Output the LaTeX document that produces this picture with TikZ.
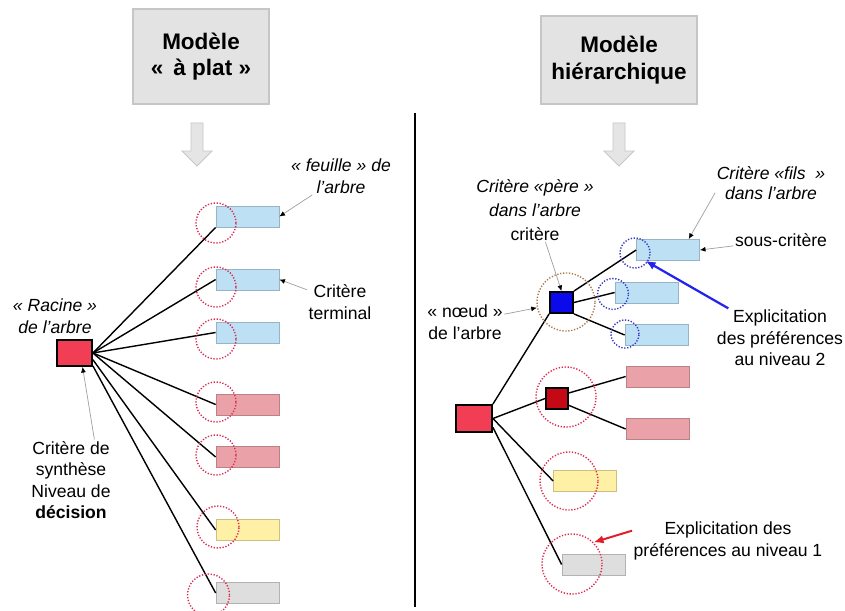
\documentclass[tikz,border=0pt]{standalone}
\usepackage{fontspec}
\setmainfont{Liberation Sans}
\usepackage{xcolor}
\usetikzlibrary{arrows.meta, positioning, calc}

\definecolor{rootred}{RGB}{242,62,84}
\definecolor{darkred}{RGB}{196,8,22}
\definecolor{nodeblue}{RGB}{10,10,235}
\definecolor{leafblue}{RGB}{189,224,245}
\definecolor{leafpink}{RGB}{234,162,168}
\definecolor{leafyellow}{RGB}{254,240,165}
\definecolor{leafgray}{RGB}{222,222,222}
\definecolor{ringred}{RGB}{222,40,80}
\definecolor{ringbrown}{RGB}{170,120,80}
\definecolor{ringblue}{RGB}{50,50,190}
\definecolor{arrowred}{RGB}{228,28,40}

\begin{document}
\begin{tikzpicture}[
    x=0.025cm, y=-0.025cm,
    titlebox/.style={rectangle, draw=gray!45, fill=gray!22, line width=0.8pt, align=center, font=\fontsize{16}{19}\selectfont\bfseries},
    txt/.style={align=center, inner sep=1pt, font=\fontsize{12.5}{15.3}\selectfont},
    itxt/.style={align=center, inner sep=1pt, font=\fontsize{12.5}{15.3}\selectfont\itshape},
    leaf/.style={rectangle, draw=#1!80!black, fill=#1, minimum width=1.575cm, minimum height=0.53cm, inner sep=0pt, line width=0.5pt},
    critbox/.style={rectangle, draw, fill=#1, line width=1.3pt, inner sep=0pt},
    ring/.style={circle, draw=#1, dash pattern=on 0.9pt off 1.2pt, line width=1pt, inner sep=0pt},
    branch/.style={draw, line width=1pt},
    pointer/.style={draw=gray!75, line width=0.5pt, -{Latex[length=4pt, width=3.5pt, color=black]}},
    bluearrow/.style={draw=nodeblue!90, line width=1.6pt, -{Latex[length=7pt, width=6pt]}},
    redarrow/.style={draw=arrowred, line width=1.4pt, -{Latex[length=7pt, width=6pt]}},
    downarrow/.style={draw=gray!45, fill=gray!20, line width=0.6pt}
]
    \useasboundingbox (0,0) rectangle (845,610);

    % Titles
    \node [titlebox, minimum width=3.4cm, minimum height=2.375cm] (titleflat) at (201,56.5) {Modèle\\«\,~à plat~»};
    \node [titlebox, minimum width=3.9cm, minimum height=2.2cm] (titlehier) at (619,60) {Modèle\\hiérarchique};
    \path [downarrow] (191,123) -- (203,123) -- (203,151) -- (212,151) -- (197,166) -- (182,151) -- (191,151) -- cycle;
    \path [downarrow] (613,123) -- (625,123) -- (625,151) -- (634,151) -- (619,166) -- (604,151) -- (613,151) -- cycle;

    % Separator
    \coordinate (sepTop) at (415,113);
    \coordinate (sepBot) at (415,607);
    \draw [line width=1.4pt] (sepTop) -- (sepBot);

    % Flat model: nodes
    \node [critbox=rootred, minimum width=0.875cm, minimum height=0.65cm] (root) at (74.5,353) {};
    \node [leaf=leafblue] (leafA1) at (247.5,216.5) {};
    \node [leaf=leafblue] (leafA2) at (247.5,279.5) {};
    \node [leaf=leafblue] (leafA3) at (247.5,332.5) {};
    \node [leaf=leafpink] (leafA4) at (247.5,404.5) {};
    \node [leaf=leafpink] (leafA5) at (247.5,457) {};
    \node [leaf=leafyellow] (leafA6) at (247.5,530) {};
    \node [leaf=leafgray] (leafA7) at (247.5,593) {};

    % Flat model: paths
    \path [branch] (root.east) -- (leafA1.south west);
    \path [branch] (root.east) -- (leafA2.west);
    \path [branch] (root.east) -- (leafA3.west);
    \path [branch] (root.east) -- (leafA4.west);
    \path [branch] (root.east) -- (leafA5.west);
    \path [branch] (root.-20) -- (leafA6.west);
    \path [branch] (root.-35) -- (leafA7.west);

    \node [ring=ringred, minimum size=1cm] (ringA1) at (216,223) {};
    \node [ring=ringred, minimum size=1cm] (ringA2) at (216,287) {};
    \node [ring=ringred, minimum size=1cm] (ringA3) at (216,339) {};
    \node [ring=ringred, minimum size=1cm] (ringA4) at (216,402) {};
    \node [ring=ringred, minimum size=1cm] (ringA5) at (216,455) {};
    \node [ring=ringred, minimum size=1.05cm] (ringA6) at (218,527) {};
    \node [ring=ringred, minimum size=1.05cm] (ringA7) at (208.5,595) {};

    % Flat model: labels
    \node [itxt] (feuille) at (341,176) {« feuille » de\\l'arbre};
    \node [txt] (terminal) at (340,302) {Critère\\terminal};
    \node [itxt] (racine) at (55,316) {« Racine »\\de l'arbre};
    \node [txt] (synth) at (71,480) {Critère de\\synthèse\\Niveau de\\\textbf{décision}};
    \path [pointer] (feuille) -- (leafA1.east);
    \path [pointer] (terminal) -- (leafA2.east);
    \path [pointer] (synth.60) -- (root.-60);

    % Hierarchical model: nodes
    \node [critbox=rootred, minimum width=0.9cm, minimum height=0.675cm] (rootH) at (474,418.5) {};
    \node [critbox=nodeblue, minimum width=0.575cm, minimum height=0.525cm] (pere) at (561.5,302.5) {};
    \node [critbox=darkred, minimum width=0.55cm, minimum height=0.525cm] (pereB) at (557,398.5) {};
    \node [leaf=leafblue] (leafB1) at (668,250) {};
    \node [leaf=leafblue] (leafB2) at (646.5,292.5) {};
    \node [leaf=leafblue] (leafB3) at (656.5,335) {};
    \node [leaf=leafpink] (leafP1) at (657.5,376.5) {};
    \node [leaf=leafpink] (leafP2) at (657.5,429) {};
    \node [leaf=leafyellow] (leafY) at (585,481) {};
    \node [leaf=leafgray] (leafG) at (593.5,564.5) {};

    % Hierarchical model: paths
    \path [branch] (rootH.north east) -- (pere.south west);
    \path [branch] (rootH.east) -- (pereB.west);
    \path [branch] (rootH.east) -- (leafY.west);
    \path [branch] (rootH.-25) -- (leafG.west);
    \path [branch] (pere.north east) -- (leafB1.west);
    \path [branch] (pere.east) -- (leafB2.west);
    \path [branch] (pere.south east) -- (leafB3.west);
    \path [branch] (pereB.25) -- (leafP1.west);
    \path [branch] (pereB.-30) -- (leafP2.west);

    \node [ring=ringbrown, minimum size=1.45cm] (ringPere) at (566,302) {};
    \node [ring=ringred, minimum size=1.5cm] (ringPereB) at (566,397) {};
    \node [ring=ringred, minimum size=1.45cm] (ringY) at (569,481) {};
    \node [ring=ringred, minimum size=1.5cm] (ringG) at (572,564) {};
    \node [ring=ringblue, minimum size=0.75cm] (ringB1) at (635,253) {};
    \node [ring=ringblue, minimum size=0.77cm] (ringB2) at (613,294) {};
    \node [ring=ringblue, minimum size=0.7cm] (ringB3) at (625,334) {};

    % Hierarchical model: labels
    \node [txt, font=\fontsize{12.5}{16.8}\selectfont] (perelbl) at (535,210) {\textit{Critère «père~»}\\\textit{dans l'arbre}\\critère};
    \node [itxt, font=\fontsize{12.5}{14.3}\selectfont\itshape] (fils) at (771,183) {Critère «fils~~»\\dans l'arbre};
    \node [txt] (sous) at (781,240) {sous-critère};
    \node [txt] (noeud) at (465,322) {« nœud »\\de l'arbre};
    \node [txt] (explB) at (780,338) {Explicitation\\des préférences\\au niveau 2};
    \node [txt] (explA) at (728,541) {Explicitation des\\préférences au niveau 1};
    \path [pointer] (perelbl) -- (pere.north);
    \path [pointer] (fils.190) -- ($(leafB1.north)!0.65!(leafB1.north east)$);
    \path [pointer] (sous) -- (leafB1.east);
    \path [pointer] (noeud) -- (ringPere);
    \path [bluearrow] (explB) -- ($(leafB1.south west)!0.15!(leafB1.south east)$);
    \path [redarrow] ($(explA.west)!0.5!(explA.north west)$) -- (ringG.45);
\end{tikzpicture}
\end{document}
